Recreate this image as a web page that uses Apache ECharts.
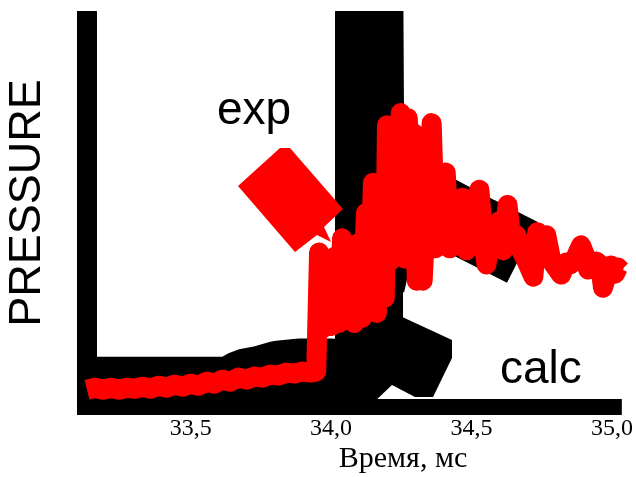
<!DOCTYPE html>
<html>
<head>
<meta charset="utf-8">
<script src="https://cdn.jsdelivr.net/npm/echarts@6/dist/echarts.min.js"></script>
<style>
  html, body { margin: 0; padding: 0; background: #ffffff; }
  #chart { width: 636px; height: 477px; }
</style>
</head>
<body>
<div id="chart"></div>
<script>
// Measured pressure trace (exp): time in ms, pressure in arbitrary units
const expTime = [
  33.131, 33.160, 33.188, 33.216, 33.245, 33.273, 33.301, 33.330, 33.358, 33.387,
  33.415, 33.443, 33.472, 33.500, 33.528, 33.557, 33.585, 33.613, 33.642, 33.670,
  33.699, 33.727, 33.755, 33.784, 33.812, 33.840, 33.869, 33.897, 33.926, 33.947,
  33.957, 33.972, 33.986, 34.000, 34.014, 34.028, 34.039, 34.053, 34.067, 34.082,
  34.096, 34.110, 34.124, 34.135, 34.149, 34.163, 34.177, 34.191, 34.199, 34.213,
  34.227, 34.241, 34.248, 34.262, 34.273, 34.284, 34.294, 34.305, 34.312, 34.326,
  34.340, 34.358, 34.372, 34.387, 34.408, 34.422, 34.436, 34.454, 34.468, 34.482,
  34.500, 34.514, 34.528, 34.543, 34.553, 34.571, 34.585, 34.599, 34.613, 34.628,
  34.642, 34.660, 34.677, 34.695, 34.720, 34.734, 34.748, 34.766, 34.784, 34.801,
  34.819, 34.837, 34.851, 34.869, 34.890, 34.904, 34.915, 34.933, 34.943, 34.957,
  34.968, 34.982, 34.996, 35.011, 35.021, 35.032
];
const expPressure = [
  0.25, 0.27, 0.25, 0.27, 0.25, 0.27, 0.26, 0.28, 0.26, 0.29,
  0.27, 0.30, 0.28, 0.31, 0.29, 0.33, 0.31, 0.35, 0.33, 0.37,
  0.35, 0.38, 0.37, 0.40, 0.39, 0.42, 0.41, 0.43, 0.42, 0.43,
  1.61, 0.86, 1.52, 0.88, 1.57, 0.91, 1.75, 0.94, 1.14, 0.91,
  1.70, 0.96, 2.00, 1.11, 2.30, 1.01, 2.10, 1.16, 2.87, 1.53,
  2.59, 1.73, 2.99, 1.55, 2.94, 2.13, 2.79, 1.33, 2.59, 1.33,
  2.13, 2.89, 1.65, 2.13, 2.40, 1.65, 1.83, 2.13, 2.15, 1.63,
  1.98, 2.13, 2.23, 1.73, 1.49, 1.83, 1.73, 1.92, 1.63, 2.08,
  1.73, 1.78, 1.63, 1.53, 1.37, 1.81, 1.68, 1.78, 1.53, 1.46,
  1.39, 1.51, 1.49, 1.55, 1.68, 1.58, 1.44, 1.45, 1.52, 1.49,
  1.26, 1.39, 1.48, 1.40, 1.46, 1.43
];

// Calculated pressure (calc); the peak runs above the plotted range
const calcTime = [33.131, 33.645, 33.695, 33.752, 33.816, 33.887, 33.993, 34.135, 34.135, 34.142, 34.223, 34.383, 34.525, 34.681];
const calcPressure = [0.24, 0.24, 0.32, 0.35, 0.40, 0.42, 0.42, 0.40, 4.70, 1.29, 2.28, 2.04, 1.83, 1.61];

const timeTicks = [33.5, 34.0, 34.5, 35.0];
const timeMin = 33.131, timeMax = 35.035;
const pressureMin = 0, pressureMax = 4;

const chart = echarts.init(document.getElementById('chart'), null, { renderer: 'canvas' });

const expData = expTime.map((t, i) => [t, expPressure[i]]);
const calcData = calcTime.map((t, i) => [t, calcPressure[i]]);

chart.setOption({
  animation: false,
  backgroundColor: '#ffffff',
  grid: { left: 87, right: 12, top: 11, bottom: 62, containLabel: false },
  xAxis: {
    type: 'value',
    min: timeMin,
    max: timeMax,
    offset: -8,
    axisLine: { show: true, lineStyle: { color: '#000', width: 16, cap: 'butt' } },
    axisTick: { show: false },
    splitLine: { show: false },
    axisLabel: {
      customValues: timeTicks,
      margin: 10,
      color: '#000',
      fontFamily: 'Liberation Serif',
      fontSize: 24,
      formatter: v => v.toFixed(1).replace('.', ',')
    }
  },
  yAxis: {
    type: 'value',
    min: pressureMin,
    max: pressureMax,
    axisLine: { show: true, lineStyle: { color: '#000', width: 20, cap: 'butt' } },
    axisTick: { show: false },
    axisLabel: { show: false },
    splitLine: { show: false }
  },
  series: [
    {
      name: 'calc',
      type: 'custom',
      clip: true,
      z: 2,
      data: calcData,
      encode: { x: 0, y: 1 },
      renderItem: function (params, api) {
        if (params.dataIndex !== 0) return null;
        const pts = calcData.map(d => api.coord(d));
        return {
          type: 'polyline',
          shape: { points: pts },
          style: { stroke: '#000', lineWidth: 68, fill: null, lineJoin: 'bevel', lineCap: 'butt' }
        };
      }
    },
    {
      name: 'exp',
      type: 'line',
      z: 4,
      data: expData,
      showSymbol: false,
      smooth: false,
      lineStyle: { color: '#ff0000', width: 20, join: 'round', cap: 'butt' }
    }
  ],
  graphic: [
    {
      type: 'polygon', z: 1,
      shape: { points: [[398, 315], [452, 340], [452, 358], [433, 397], [415, 397], [392, 385], [378, 372], [378, 315]] },
      style: { fill: '#000' }
    },
    {
      type: 'polygon', z: 6,
      shape: { points: [[238, 186], [280, 148], [290, 148], [343, 209], [324, 227], [331, 242], [317, 235], [295, 252]] },
      style: { fill: '#ff0000' }
    },
    {
      type: 'text', z: 6, x: 217, y: 111,
      style: { text: 'exp', fill: '#000', font: '46px "Liberation Sans"', align: 'left', verticalAlign: 'middle' }
    },
    {
      type: 'text', z: 6, x: 500, y: 370,
      style: { text: 'calc', fill: '#000', font: '46px "Liberation Sans"', align: 'left', verticalAlign: 'middle' }
    },
    {
      type: 'text', z: 6, x: 28, y: 203, rotation: Math.PI / 2,
      style: { text: 'PRESSURE', fill: '#000', font: '45px "Liberation Sans"', align: 'center', verticalAlign: 'middle' }
    },
    {
      type: 'text', z: 6, x: 403, y: 459,
      style: { text: 'Время, мс', fill: '#000', font: '30px "Liberation Serif"', align: 'center', verticalAlign: 'middle' }
    }
  ]
});
</script>
</body>
</html>
